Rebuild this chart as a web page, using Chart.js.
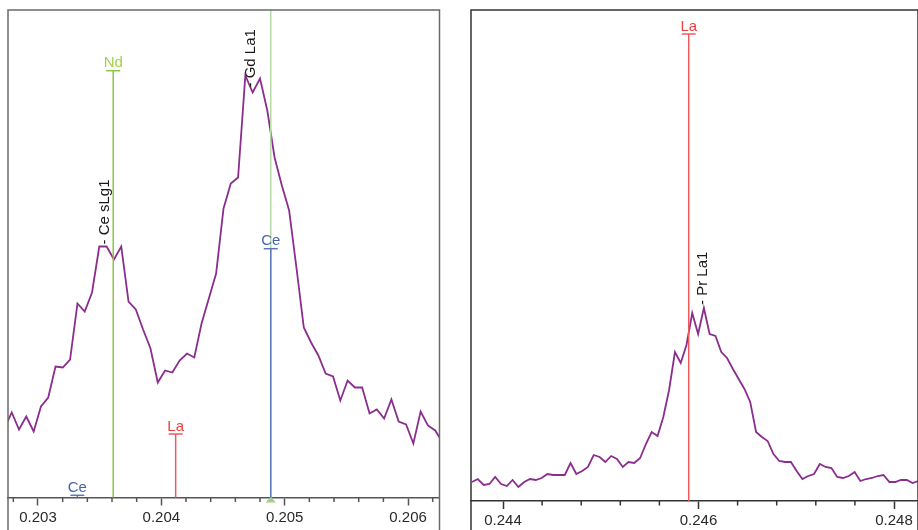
<!DOCTYPE html>
<html>
<head>
<meta charset="utf-8">
<script src="https://cdn.jsdelivr.net/npm/chart.js@4.4.1/dist/chart.umd.min.js"></script>
<style>
  html, body { margin: 0; padding: 0; background: #ffffff; }
  #wrap { position: relative; width: 918px; height: 530px; overflow: hidden; background: #fff; }
  #cL { position: absolute; left: 0; top: 0; }
  #cR { position: absolute; left: 460px; top: 0; }
</style>
</head>
<body>
<div id="wrap">
  <canvas id="cL" width="460" height="530"></canvas>
  <canvas id="cR" width="458" height="530"></canvas>
</div>
<script>
// ---------------- DATA ----------------
// Left panel: energy (keV) and counts (arbitrary units)
const leftEnergy = [
  0.202728, 0.202787, 0.202846, 0.202905, 0.202965, 0.203024, 0.203083, 0.203142, 0.203201, 0.203260,
  0.203320, 0.203379, 0.203438, 0.203497, 0.203556, 0.203616, 0.203675, 0.203734, 0.203793, 0.203852,
  0.203912, 0.203971, 0.204030, 0.204089, 0.204148, 0.204208, 0.204267, 0.204326, 0.204385, 0.204444,
  0.204504, 0.204563, 0.204622, 0.204681, 0.204740, 0.204800, 0.204859, 0.204918, 0.204977, 0.205036,
  0.205096, 0.205155, 0.205214, 0.205273, 0.205332, 0.205392, 0.205451, 0.205510, 0.205569, 0.205628,
  0.205688, 0.205747, 0.205806, 0.205865, 0.205924, 0.205984, 0.206043, 0.206102, 0.206161, 0.206220,
  0.206280
];
const leftCounts = [
  69, 85, 68, 81, 66, 91, 100, 131, 130, 138,
  194, 186, 205, 251, 251, 238, 251, 196, 188, 168,
  149, 115, 127, 125, 137, 144, 140, 174, 199, 224,
  289, 314, 320, 422, 405, 419, 387, 340, 312, 287,
  229, 170, 155, 142, 124, 121, 97, 117, 110, 110,
  84, 88, 79, 98, 76, 73, 54, 86, 72, 67,
  55
];
const leftTicks = [0.2028, 0.2030, 0.2032, 0.2034, 0.2036, 0.2038, 0.2040, 0.2042, 0.2044, 0.2046,
                   0.2048, 0.2050, 0.2052, 0.2054, 0.2056, 0.2058, 0.2060, 0.2062];
const leftRange = [0.2027568, 0.206255];

// Left panel element markers
const leftMarkerLabel  = ['Ce', 'Nd', 'La', 'Ce'];
const leftMarkerEnergy = [0.203319, 0.203610, 0.204116, 0.204887];
const leftMarkerHeight = [2.2, 426.8, 63.5, 248.8];
// Left panel cursor (full-height) line
const leftCursorEnergy = [0.204887];
// Left panel peak identifications
const leftPeakText   = ['- Ce sLg1', '- Gd La1'];
const leftPeakEnergy = [0.203543, 0.204727];
const leftPeakHeight = [253, 410];

// Right panel
const rightEnergy = [
  0.243683, 0.243742, 0.243802, 0.243861, 0.243920, 0.243980, 0.244039, 0.244098, 0.244157, 0.244217,
  0.244276, 0.244335, 0.244395, 0.244454, 0.244513, 0.244573, 0.244632, 0.244691, 0.244750, 0.244810,
  0.244869, 0.244928, 0.244988, 0.245047, 0.245106, 0.245166, 0.245225, 0.245284, 0.245343, 0.245403,
  0.245462, 0.245521, 0.245581, 0.245640, 0.245699, 0.245759, 0.245818, 0.245877, 0.245936, 0.245996,
  0.246055, 0.246114, 0.246174, 0.246233, 0.246292, 0.246352, 0.246411, 0.246470, 0.246529, 0.246589,
  0.246648, 0.246707, 0.246767, 0.246826, 0.246885, 0.246945, 0.247004, 0.247063, 0.247122, 0.247182,
  0.247241, 0.247300, 0.247360, 0.247419, 0.247478, 0.247538, 0.247597, 0.247656, 0.247715, 0.247775,
  0.247834, 0.247893, 0.247953, 0.248012, 0.248071, 0.248131, 0.248190, 0.248249
];
const rightCounts = [
  19, 22, 16, 17, 24, 17, 15, 21, 14, 19,
  22, 21, 23, 27, 26, 26, 26, 38, 27, 30,
  34, 46, 44, 39, 45, 42, 34, 39, 38, 43,
  57, 69, 65, 84, 111, 149, 138, 156, 188, 167,
  193, 167, 165, 149, 143, 132, 122, 112, 99, 69,
  64, 60, 47, 40, 39, 39, 30, 22, 25, 27,
  37, 34, 33, 24, 23, 25, 29, 20, 22, 23,
  25, 26, 19, 19, 21, 21, 18, 20
];
const rightTicks = [0.2440, 0.2444, 0.2448, 0.2452, 0.2456, 0.2460, 0.2464, 0.2468, 0.2472, 0.2476, 0.2480];
const rightRange = [0.2436726, 0.2482455];

const rightMarkerLabel  = ['La'];
const rightMarkerEnergy = [0.2459];
const rightMarkerHeight = [467];
const rightCursorEnergy = [];
const rightPeakText   = ['- Pr La1'];
const rightPeakEnergy = [0.246041];
const rightPeakHeight = [196];

// ---------------- STYLE ----------------
const FONT = "'Liberation Sans', Arial, sans-serif";
const SPECTRUM_COLOR = '#8a2d8e';
const elementLine = { Ce: '#5a78b8', Nd: '#8cc63f', La: '#f05a5a' };
const elementText = { Ce: '#4565ad', Nd: '#a3d14a', La: '#ee4040' };
const CURSOR_COLOR = '#b4dca4';

function isMajor(v) {
  return Math.abs(v * 1000 - Math.round(v * 1000)) < 1e-6 && Math.round(v * 1000) % 1 === 0;
}

function makeChart(canvasId, cfg) {
  const framePlugin = {
    id: 'frame_' + canvasId,
    afterDraw(chart) {
      const ctx = chart.ctx, a = chart.chartArea;
      const H = chart.height;
      ctx.save();
      ctx.strokeStyle = cfg.frameColor;
      ctx.lineWidth = 1.5;
      ctx.beginPath();
      ctx.moveTo(a.left, H + 2); ctx.lineTo(a.left, a.top); ctx.lineTo(a.right, a.top); ctx.lineTo(a.right, H + 2);
      ctx.stroke();
      // minor ticks
      const xs = chart.scales.x;
      ctx.strokeStyle = cfg.axisColor;
      ctx.lineWidth = 1.5;
      cfg.ticks.forEach(v => {
        if (isMajor(v)) return;
        const px = xs.getPixelForValue(v);
        ctx.beginPath();
        ctx.moveTo(px, a.bottom);
        ctx.lineTo(px, a.bottom + 4.5);
        ctx.stroke();
      });
      ctx.restore();
    }
  };

  const markerPlugin = {
    id: 'markers_' + canvasId,
    afterDatasetsDraw(chart) {
      const ctx = chart.ctx, a = chart.chartArea;
      const xs = chart.scales.x, ys = chart.scales.y;
      ctx.save();
      // cursor lines
      cfg.cursorEnergy.forEach(e => {
        const px = xs.getPixelForValue(e);
        ctx.strokeStyle = CURSOR_COLOR;
        ctx.lineWidth = 1.5;
        ctx.beginPath(); ctx.moveTo(px, a.top); ctx.lineTo(px, a.bottom); ctx.stroke();
        ctx.fillStyle = '#9fd08c';
        ctx.beginPath();
        ctx.moveTo(px - 5, a.bottom + 5);
        ctx.lineTo(px + 5, a.bottom + 5);
        ctx.lineTo(px, a.bottom - 1);
        ctx.closePath();
        ctx.fill();
      });
      // element markers
      cfg.markerLabel.forEach((lab, i) => {
        const px = xs.getPixelForValue(cfg.markerEnergy[i]);
        const py = ys.getPixelForValue(cfg.markerHeight[i]);
        ctx.strokeStyle = elementLine[lab];
        ctx.lineWidth = 1.5;
        ctx.beginPath(); ctx.moveTo(px, a.bottom); ctx.lineTo(px, py); ctx.stroke();
        ctx.beginPath(); ctx.moveTo(px - 7, py); ctx.lineTo(px + 7, py); ctx.stroke();
        ctx.fillStyle = elementText[lab];
        ctx.font = '15px ' + FONT;
        ctx.textAlign = 'center';
        ctx.textBaseline = 'alphabetic';
        ctx.fillText(lab, px, py - 3.5);
      });
      // peak identification labels (rotated)
      cfg.peakText.forEach((t, i) => {
        const px = xs.getPixelForValue(cfg.peakEnergy[i]);
        const py = ys.getPixelForValue(cfg.peakHeight[i]);
        ctx.save();
        ctx.translate(px, py);
        ctx.rotate(-Math.PI / 2);
        ctx.fillStyle = '#1a1a1a';
        ctx.font = '15px ' + FONT;
        ctx.textAlign = 'left';
        ctx.textBaseline = 'middle';
        ctx.fillText(t, 0, 0);
        ctx.restore();
      });
      ctx.restore();
    }
  };

  return new Chart(document.getElementById(canvasId), {
    type: 'line',
    data: {
      datasets: [{
        data: cfg.energy.map((x, i) => ({ x: x, y: cfg.counts[i] })),
        borderColor: SPECTRUM_COLOR,
        borderWidth: 1.8,
        pointRadius: 0,
        tension: 0,
        fill: false
      }]
    },
    options: {
      responsive: false,
      animation: false,
      events: [],
      plugins: { legend: { display: false }, tooltip: { enabled: false } },
      layout: { padding: cfg.padding },
      scales: {
        x: {
          type: 'linear',
          min: cfg.range[0],
          max: cfg.range[1],
          afterBuildTicks: s => { s.ticks = cfg.ticks.map(v => ({ value: v })); },
          afterFit: s => { s.height = cfg.axisHeight; s.paddingLeft = 0; s.paddingRight = 0; },
          border: { display: true, color: cfg.axisColor, width: 1.5 },
          grid: {
            drawOnChartArea: false,
            drawTicks: true,
            tickLength: 8,
            tickWidth: 1.5,
            tickColor: c => (c.tick && isMajor(c.tick.value)) ? cfg.axisColor : 'rgba(0,0,0,0)'
          },
          ticks: {
            autoSkip: false,
            maxRotation: 0,
            minRotation: 0,
            padding: 3,
            color: '#2a2a2a',
            font: { family: FONT, size: 15 },
            callback: v => isMajor(v) ? v.toFixed(3) : ''
          }
        },
        y: { display: false, min: 0, max: cfg.ymax }
      }
    },
    plugins: [framePlugin, markerPlugin]
  });
}

makeChart('cL', {
  energy: leftEnergy, counts: leftCounts, ticks: leftTicks, range: leftRange,
  markerLabel: leftMarkerLabel, markerEnergy: leftMarkerEnergy, markerHeight: leftMarkerHeight,
  cursorEnergy: leftCursorEnergy,
  peakText: leftPeakText, peakEnergy: leftPeakEnergy, peakHeight: leftPeakHeight,
  padding: { left: 8, right: 20.5, top: 10, bottom: 0 },
  axisHeight: 32.5, ymax: 487.5,
  frameColor: '#6a6a6a', axisColor: '#555555'
});

makeChart('cR', {
  energy: rightEnergy, counts: rightCounts, ticks: rightTicks, range: rightRange,
  markerLabel: rightMarkerLabel, markerEnergy: rightMarkerEnergy, markerHeight: rightMarkerHeight,
  cursorEnergy: rightCursorEnergy,
  peakText: rightPeakText, peakEnergy: rightPeakEnergy, peakHeight: rightPeakHeight,
  padding: { left: 11, right: 0, top: 10, bottom: 0 },
  axisHeight: 29, ymax: 491,
  frameColor: '#333333', axisColor: '#333333'
});
</script>
</body>
</html>
